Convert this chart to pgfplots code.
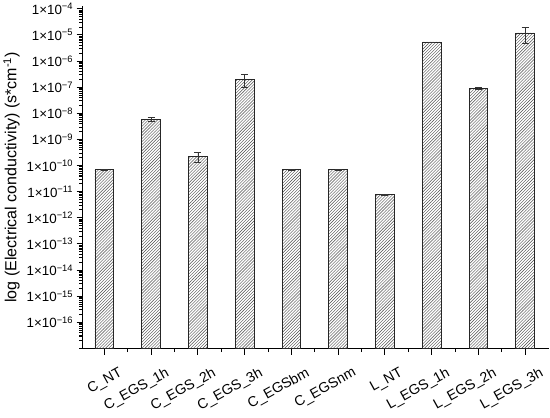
\documentclass[border=0pt]{standalone}
\usepackage{fontspec}
\setmainfont{Liberation Sans}
\usepackage{pgfplots}
\pgfplotsset{compat=1.18}
\usetikzlibrary{patterns}

\newcommand{\sci}[1]{1×10\textsuperscript{−#1}}
% minor log ticks at 2..9 of every decade
\def\minorlist{1e-17}
\foreach \e in {-17,...,-5}{\foreach \m in {2,...,9}{\xdef\minorlist{\minorlist,\m e\e}}}

\begin{document}
\begin{tikzpicture}
\begin{axis}[
  scale only axis,
  width=460pt, height=338pt,
  ymode=log, log origin=infty,
  ymin=1e-17, ymax=1.27e-4,
  xmin=-0.46, xmax=9.5,
  axis x line=bottom, axis y line=left,
  axis line style={-, line width=1.2pt, black},
  ybar, bar width=18.5pt,
  xtick={0,...,9},
  xticklabels={C\_NT, C\_EGS\_1h, C\_EGS\_2h, C\_EGS\_3h, C\_EGSbm,
    C\_EGSnm, L\_NT, L\_EGS\_1h, L\_EGS\_2h, L\_EGS\_3h},
  minor x tick num=1,
  ytick={1e-16,1e-15,1e-14,1e-13,1e-12,1e-11,1e-10,1e-9,1e-8,1e-7,1e-6,1e-5,1e-4},
  yticklabels={\sci{16},\sci{15},\sci{14},\sci{13},\sci{12},\sci{11},\sci{10},
    \sci{9},\sci{8},\sci{7},\sci{6},\sci{5},\sci{4}},
  minor ytick/.expanded={\minorlist},
  tick align=outside,
  major tick length=6pt, minor tick length=3.5pt,
  tick style={black, line width=1pt},
  yticklabel style={font=\fontsize{13.2}{15}\selectfont},
  xticklabel style={font=\fontsize{14}{16}\selectfont, xshift=15pt, yshift=-7pt, rotate=29, anchor=north east},
  ylabel={log (Electrical conductivity) (s*cm\textsuperscript{-1})},
  ylabel style={font=\fontsize{15.8}{18}\selectfont},
  clip=false,
]
\addplot[draw=black!85, line width=0.8pt, pattern=north east lines, pattern color=black!70,
  error bars/.cd, y dir=both, y explicit,
  error bar style={black!80, line width=0.6pt},
  error mark options={rotate=90, mark size=3.5pt, black!80, line width=0.6pt}]
  coordinates {
    (0, 7.0e-11) +- (0, 0.3e-11)
    (1, 6.0e-9)  +- (0, 1.0e-9)
    (2, 2.25e-10) +- (0, 0.9e-10)
    (3, 2.0e-7)  +- (0, 1.0e-7)
    (4, 7.0e-11) +- (0, 0.4e-11)
    (5, 7.0e-11) +- (0, 0.4e-11)
    (6, 7.8e-12) +- (0, 0.4e-12)
    (7, 5.4e-6)  +- (0, 0)
    (8, 9.0e-8)  +- (0, 1.0e-8)
    (9, 1.2e-5)  +- (0, 0.7e-5)
  };
\end{axis}
\end{tikzpicture}
\end{document}
